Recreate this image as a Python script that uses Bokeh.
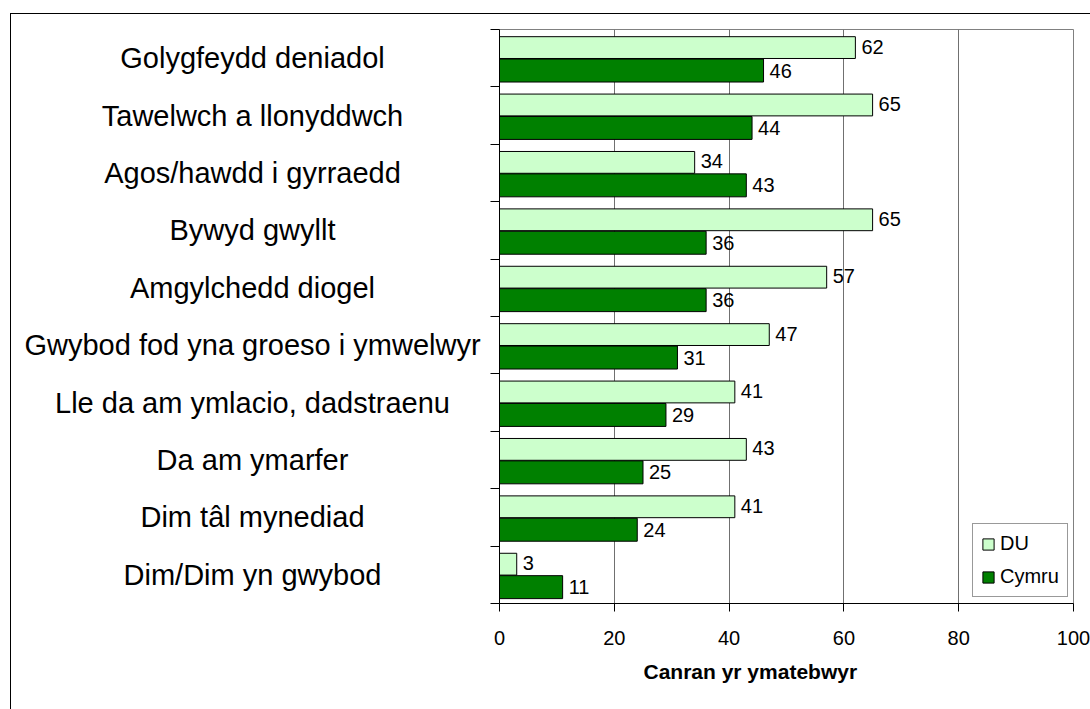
from bokeh.plotting import figure
from bokeh.models import Range1d, FixedTicker, LinearAxis, ColumnDataSource, Title
from bokeh.layouts import row
from bokeh.transform import dodge
from bokeh.embed import file_html
from bokeh.resources import INLINE
from bokeh.core.properties import value

categories = [
    "Golygfeydd deniadol",
    "Tawelwch a llonyddwch",
    "Agos/hawdd i gyrraedd",
    "Bywyd gwyllt",
    "Amgylchedd diogel",
    "Gwybod fod yna groeso i ymwelwyr",
    "Lle da am ymlacio, dadstraenu",
    "Da am ymarfer",
    "Dim tâl mynediad",
    "Dim/Dim yn gwybod",
]
du = [62, 65, 34, 65, 57, 47, 41, 43, 41, 3]
cymru = [46, 44, 43, 36, 36, 31, 29, 25, 24, 11]
series_names = ["DU", "Cymru"]
x_ticks = [0, 20, 40, 60, 80, 100]
x_title = "Canran yr ymatebwyr"

FONT = "Liberation Sans"
n = len(categories)
ypos = [n - 1 - i for i in range(n)]
src = ColumnDataSource(dict(
    y=ypos, cat=categories, du=du, cymru=cymru,
    du_lbl=[str(v) for v in du], cy_lbl=[str(v) for v in cymru],
))

H = 695
TOP = 15
BOTTOM = 106
WL = 478
y_range = Range1d(-0.5, n - 0.5)

# ---- left panel: category labels (shares the y scale) ----
left = figure(width=WL, height=H, x_range=Range1d(0, WL), y_range=y_range,
              output_backend="svg", toolbar_location=None,
              x_axis_location=None, y_axis_location=None,
              min_border_left=0, min_border_right=0,
              min_border_top=TOP, min_border_bottom=BOTTOM)
left.outline_line_color = None
left.grid.visible = False
left.text(x=241, y="y", text="cat", source=src, text_align="center",
          text_baseline="middle", text_font=value(FONT), text_font_size="29px",
          text_color="#000000")

# ---- right panel: bars ----
p = figure(width=601, height=H, x_range=Range1d(0, 100), y_range=y_range,
           output_backend="svg", toolbar_location=None, y_axis_location=None,
           min_border_left=10, min_border_right=17, min_border_top=TOP,
           min_border_bottom=BOTTOM)
p.outline_line_color = "#808080"

p.hbar(y=dodge("y", 0.185, range=y_range), left=0, right="du", height=0.38,
       fill_color="#CCFFCC", line_color="#000000", line_width=1, source=src,
       legend_label=series_names[0])
p.hbar(y=dodge("y", -0.215, range=y_range), left=0, right="cymru", height=0.40,
       fill_color="#008000", line_color="#000000", line_width=1, source=src,
       legend_label=series_names[1])

p.text(x="du", y=dodge("y", 0.185, range=y_range), text="du_lbl", source=src,
       x_offset=6, y_offset=-1, text_baseline="middle", text_align="left",
       text_font=value(FONT), text_font_size="20px", text_color="#000000")
p.text(x="cymru", y=dodge("y", -0.215, range=y_range), text="cy_lbl", source=src,
       x_offset=6, y_offset=0, text_baseline="middle", text_align="left",
       text_font=value(FONT), text_font_size="20px", text_color="#000000")

xa = p.xaxis[0]
xa.ticker = FixedTicker(ticks=x_ticks)
xa.major_tick_out = 8
xa.major_tick_in = 0
xa.minor_tick_line_color = None
xa.axis_line_color = "#000000"
xa.major_tick_line_color = "#000000"
xa.major_label_text_font = FONT
xa.major_label_text_font_size = "20px"
xa.major_label_text_color = "#000000"
xa.major_label_standoff = 19

p.xgrid.ticker = FixedTicker(ticks=x_ticks[1:])
p.xgrid.grid_line_color = "#707070"
p.ygrid.visible = False

# y axis: tick marks between the categories, no labels
ya = LinearAxis(ticker=FixedTicker(ticks=[], minor_ticks=[i - 0.5 for i in range(n + 1)]),
                major_tick_out=0, major_tick_in=0, minor_tick_out=9, minor_tick_in=0,
                minor_tick_line_color="#000000", major_label_standoff=0,
                axis_line_color="#000000")
p.add_layout(ya, "left")

t = Title(text=x_title, align="left", offset=144, text_font=FONT,
          text_font_size="21px", text_font_style="bold", text_color="#000000",
          standoff=21)
p.add_layout(t, "below")

leg = p.legend[0]
leg.location = (473, 6)
leg.margin = 0
leg.padding = 8
leg.spacing = 10
leg.glyph_width = 14
leg.glyph_height = 14
leg.label_standoff = 5
leg.label_text_font = FONT
leg.label_text_font_size = "20px"
leg.label_text_color = "#000000"
leg.border_line_color = "#333333"
leg.border_line_width = 1
leg.background_fill_color = "#ffffff"
leg.background_fill_alpha = 1

layout = row(left, p)
layout.styles = {"margin-left": "10px", "margin-top": "13px",
                 "border-left": "1px solid #000", "border-top": "1px solid #000"}

open("out.html", "w").write(file_html(layout, INLINE))
